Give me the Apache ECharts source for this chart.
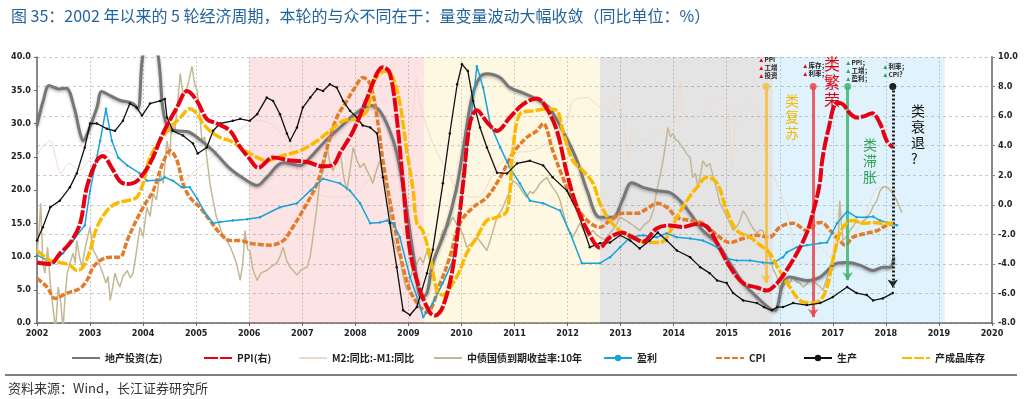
<!DOCTYPE html>
<html>
<head>
<meta charset="utf-8">
<script src="https://cdn.jsdelivr.net/npm/echarts@6.0.0/dist/echarts.min.js"></script>
<style>
  html, body { margin: 0; padding: 0; background: #fff; }
  #chart { width: 1027px; height: 399px; }
</style>
</head>
<body>
<div id="chart"></div>
<script>
// 数据（横轴为年份，左轴 0-40，右轴 -8-10）
const invest = [[2002.00,29.7],[2002.12,33.5],[2002.23,35.7],[2002.40,35.2],[2002.55,35.3],[2002.70,32.4],[2002.81,28.6],[2002.87,27.4],[2002.96,28.7],[2003.13,32.4],[2003.22,34.8],[2003.38,34.2],[2003.56,33.5],[2003.81,33.0],[2003.90,32.2],[2003.98,39.4],[2004.05,42],[2004.15,43],[2004.25,41],[2004.28,40.4],[2004.32,37.5],[2004.37,32.4],[2004.47,29.4],[2004.64,28.9],[2004.83,28.8],[2005.02,27.9],[2005.32,25.9],[2005.64,23.2],[2005.96,21.4],[2006.15,20.7],[2006.33,21.9],[2006.64,24.1],[2006.96,23.7],[2007.15,24.9],[2007.39,27.0],[2007.71,29.4],[2007.96,31.2],[2008.28,32.7],[2008.46,31.9],[2008.65,28.9],[2008.78,25.6],[2008.95,18],[2009.10,10],[2009.25,3.8],[2009.35,4.5],[2009.46,9],[2009.70,14],[2009.90,20],[2010.05,27],[2010.20,34],[2010.35,37],[2010.48,37.5],[2010.73,36.9],[2010.91,35.4],[2011.16,34.6],[2011.48,33.4],[2011.67,32.2],[2011.91,28.9],[2012.18,24.4],[2012.37,19.9],[2012.61,15.9],[2012.86,15.9],[2013.03,18.4],[2013.21,21.1],[2013.42,20.4],[2013.68,19.9],[2013.93,19.6],[2014.12,18.4],[2014.31,16.5],[2014.55,13.9],[2014.82,12.0],[2015.06,9.0],[2015.31,6.0],[2015.57,3.9],[2015.81,2.2],[2015.91,1.9],[2016.06,6.0],[2016.19,6.9],[2016.51,6.4],[2016.76,6.9],[2017.08,9.0],[2017.27,9.1],[2017.51,8.7],[2017.76,7.9],[2017.94,8.4],[2018.08,8.4],[2018.15,9.9]];

const ppi = [[2002.00,-3.9],[2002.25,-4.0],[2002.43,-3.3],[2002.62,-2.6],[2002.81,-1.3],[2002.94,1.2],[2003.13,3.0],[2003.24,3.3],[2003.41,2.5],[2003.56,1.6],[2003.70,1.4],[2003.88,1.6],[2004.13,2.8],[2004.37,4.8],[2004.64,6.6],[2004.83,7.7],[2005.02,7.0],[2005.20,5.8],[2005.39,5.5],[2005.64,5.0],[2005.83,3.9],[2006.01,3.1],[2006.17,2.5],[2006.45,3.2],[2006.77,3.0],[2007.09,2.9],[2007.39,2.6],[2007.58,2.7],[2007.71,3.5],[2007.96,5.0],[2008.22,7.2],[2008.41,8.9],[2008.52,9.3],[2008.65,8.9],[2008.78,5.9],[2008.90,1.4],[2009.03,-3.1],[2009.22,-5.8],[2009.41,-7.3],[2009.50,-7.5],[2009.65,-6.9],[2009.84,-4.2],[2010.03,1.4],[2010.16,5.5],[2010.29,6.4],[2010.48,5.6],[2010.67,5.0],[2010.91,5.9],[2011.16,6.8],[2011.42,7.2],[2011.61,6.5],[2011.80,5.0],[2011.99,2.1],[2012.18,-0.2],[2012.37,-1.7],[2012.61,-2.9],[2012.80,-2.2],[2013.03,-1.9],[2013.23,-2.2],[2013.42,-2.5],[2013.68,-1.6],[2013.93,-1.4],[2014.17,-1.5],[2014.44,-1.3],[2014.63,-1.5],[2014.82,-2.6],[2015.06,-4.2],[2015.31,-5.3],[2015.57,-5.6],[2015.76,-5.8],[2015.95,-5.3],[2016.06,-4.8],[2016.32,-3.3],[2016.51,-1.9],[2016.62,-0.6],[2016.70,0.5],[2016.76,1.6],[2016.80,3.0],[2016.91,5.0],[2017.08,6.9],[2017.19,6.8],[2017.32,6.2],[2017.45,5.9],[2017.60,6.0],[2017.74,6.2],[2017.89,5.5],[2018.02,4.3],[2018.13,3.9]];

const m2m1 = [[2002.00,25],[2002.10,26.5],[2002.25,27.4],[2002.35,24.9],[2002.45,22.5],[2002.60,24],[2002.80,23],[2003.00,24.5],[2003.30,25.9],[2003.50,25],[2003.70,23],[2003.90,21.5],[2004.10,23],[2004.40,22],[2004.70,21],[2005.00,23],[2005.30,25],[2005.60,28],[2005.90,29.5],[2006.10,30.5],[2006.40,30],[2006.60,28.5],[2006.75,27.4],[2006.96,21.9],[2007.28,19.5],[2007.58,18.9],[2008.03,19.5],[2008.33,21.9],[2008.60,21.9],[2008.84,22.9],[2009.09,31.9],[2009.15,36.9],[2009.22,33],[2009.46,27],[2009.73,22.9],[2009.97,19.5],[2010.29,18.9],[2010.67,23.4],[2010.97,25.5],[2011.35,25.9],[2011.67,27.4],[2011.99,30.4],[2012.10,33.4],[2012.37,33.9],[2012.61,32.4],[2012.80,31.9],[2012.93,33.7],[2013.04,31.4],[2013.14,24.9],[2013.23,28.9],[2013.42,27.4],[2013.68,28.5],[2013.99,29.4],[2014.12,36.4],[2014.21,30.9],[2014.44,30.9],[2014.82,33.9],[2015.00,33.4],[2015.10,23.4],[2015.19,30.9],[2015.44,33],[2015.62,31.4],[2015.81,24],[2016.06,18.4],[2016.19,15],[2016.32,9.4],[2016.51,9],[2016.76,11.4],[2016.95,9.9],[2017.13,17.4],[2017.32,12.9],[2017.60,16],[2017.80,20],[2018.00,20.5],[2018.20,20]];

const bond = [[2002.00,10.5],[2002.04,14],[2002.07,18],[2002.11,9],[2002.15,7.5],[2002.20,11.4],[2002.25,6],[2002.30,2.4],[2002.35,-1],[2002.40,5.4],[2002.45,3],[2002.49,-1],[2002.53,4],[2002.57,7.5],[2002.62,9],[2002.68,10.5],[2002.72,9],[2002.75,12.4],[2002.80,10],[2002.85,8.4],[2002.90,11],[2002.94,12.4],[2003.00,14.4],[2003.06,11],[2003.13,9.9],[2003.19,8.5],[2003.24,7.5],[2003.30,6],[2003.34,7],[2003.38,3.4],[2003.43,5.5],[2003.47,7.5],[2003.52,6.2],[2003.56,5.4],[2003.62,7],[2003.70,7.9],[2003.76,6.8],[2003.81,7.5],[2003.88,11],[2003.94,14.4],[2004.00,13],[2004.07,17.4],[2004.13,16],[2004.19,19.5],[2004.25,18.5],[2004.32,22.5],[2004.38,21],[2004.45,27.4],[2004.50,25],[2004.54,30],[2004.60,29],[2004.65,33],[2004.70,37.5],[2004.75,34.5],[2004.79,34.5],[2004.85,36],[2004.92,38.6],[2004.97,36],[2005.02,34.9],[2005.07,31],[2005.11,27.4],[2005.16,28],[2005.20,24.9],[2005.26,21],[2005.32,18.4],[2005.38,16],[2005.45,14.4],[2005.51,13],[2005.58,12.4],[2005.64,11.5],[2005.69,10.5],[2005.76,9],[2005.83,6.4],[2005.88,9],[2005.92,13.9],[2005.97,11],[2006.01,10.9],[2006.07,8],[2006.15,6.4],[2006.22,7.5],[2006.33,7.9],[2006.42,8.5],[2006.52,9],[2006.58,10],[2006.64,11.4],[2006.70,9.5],[2006.77,8.4],[2006.84,7.8],[2006.90,7.2],[2006.98,8],[2007.09,8.4],[2007.15,10],[2007.20,12.9],[2007.27,17],[2007.33,21.4],[2007.40,23],[2007.47,26.4],[2007.52,24],[2007.58,22.9],[2007.65,24.5],[2007.71,25.9],[2007.78,22],[2007.84,19.9],[2007.90,23],[2007.96,26.4],[2008.03,24.5],[2008.09,23.4],[2008.16,24],[2008.22,22.9],[2008.28,22],[2008.33,21],[2008.40,23],[2008.46,24.4],[2008.53,22],[2008.60,19.9],[2008.66,16],[2008.71,12.9],[2008.78,11],[2008.84,9.9],[2008.90,7],[2008.97,4.9],[2009.03,6.5],[2009.09,8.4],[2009.16,9],[2009.22,9.9],[2009.28,9],[2009.35,10.9],[2009.40,9.5],[2009.46,8.4],[2009.55,11],[2009.65,13.9],[2009.75,14.5],[2009.84,15.9],[2009.90,15],[2009.97,14.4],[2010.04,13],[2010.10,11.4],[2010.20,12],[2010.29,12.9],[2010.38,12],[2010.48,10.9],[2010.54,12.4],[2010.60,14],[2010.67,15.9],[2010.76,17],[2010.86,18.9],[2010.92,20],[2010.97,21.4],[2011.04,21],[2011.10,20.4],[2011.17,19.5],[2011.23,18.9],[2011.29,19.8],[2011.35,19.5],[2011.42,20.2],[2011.48,21],[2011.55,21.5],[2011.61,21.9],[2011.67,21],[2011.72,20.4],[2011.80,19.5],[2011.86,18.4],[2011.92,16.5],[2011.99,14.4],[2012.05,13.5],[2012.10,12.9],[2012.17,14],[2012.23,15],[2012.30,14],[2012.37,12.9],[2012.42,13.5],[2012.48,13.9],[2012.55,13.2],[2012.61,12.9],[2012.70,12.5],[2012.80,13.5],[2012.90,14.5],[2012.99,15.9],[2013.08,15.5],[2013.18,15],[2013.27,14.5],[2013.36,13.9],[2013.45,14.8],[2013.55,15.4],[2013.62,17],[2013.68,19.9],[2013.74,22],[2013.80,24.4],[2013.85,27],[2013.89,29.4],[2013.94,28],[2013.99,28.5],[2014.04,27.5],[2014.08,27.4],[2014.13,26.8],[2014.17,26.4],[2014.24,25.5],[2014.31,24.9],[2014.36,21.9],[2014.41,22.5],[2014.46,20.4],[2014.50,22],[2014.55,24.4],[2014.62,23.5],[2014.68,24],[2014.73,22.5],[2014.78,21],[2014.83,19.5],[2014.87,18],[2014.94,17],[2015.00,15.9],[2015.06,15],[2015.12,13.9],[2015.19,14.5],[2015.25,15.4],[2015.31,16.9],[2015.38,16],[2015.44,15],[2015.50,14.2],[2015.57,13.5],[2015.62,14],[2015.68,13.9],[2015.75,12],[2015.81,9.9],[2015.88,8],[2015.95,6.9],[2016.00,4.9],[2016.07,5.5],[2016.13,6.4],[2016.19,6],[2016.25,6.9],[2016.32,6.2],[2016.38,6],[2016.44,5.4],[2016.50,5.8],[2016.56,6.4],[2016.62,6.4],[2016.70,5.8],[2016.76,5.5],[2016.81,4.9],[2016.88,6.5],[2016.95,8.4],[2017.02,10],[2017.08,11.4],[2017.11,14],[2017.13,18.4],[2017.16,15],[2017.19,12.4],[2017.26,13],[2017.32,13.9],[2017.38,14.5],[2017.45,15.4],[2017.53,15],[2017.60,15.5],[2017.64,15.9],[2017.70,16.5],[2017.76,17.5],[2017.83,18.4],[2017.89,19.9],[2017.95,20.5],[2018.02,20.4],[2018.08,20],[2018.13,19.5],[2018.20,18.5],[2018.26,17.4],[2018.30,16.6]];

const profit = [[2002.00,10.2],[2002.30,9.0],[2002.49,10.5],[2002.68,12.4],[2002.90,14.7],[2003.00,19.9],[2003.19,27.4],[2003.30,32.2],[2003.41,27.4],[2003.53,24.9],[2003.70,23.7],[2003.94,22.5],[2004.07,21.4],[2004.32,21.5],[2004.41,21.9],[2004.56,21.4],[2004.73,20.4],[2004.88,20.4],[2005.02,18.7],[2005.17,16.5],[2005.32,15.0],[2005.45,15.2],[2005.69,15.4],[2005.96,15.6],[2006.20,15.9],[2006.58,17.4],[2006.90,18.0],[2007.15,19.9],[2007.39,21.7],[2007.71,21.0],[2007.90,19.9],[2008.09,18.0],[2008.28,15.0],[2008.46,15.1],[2008.60,15.4],[2008.71,15.0],[2008.84,12.9],[2009.03,6.9],[2009.20,3.0],[2009.28,0.9],[2009.46,3.0],[2009.65,6.0],[2009.84,9.4],[2009.97,15.9],[2010.10,25.9],[2010.22,33.4],[2010.29,38.6],[2010.41,35.4],[2010.54,30.0],[2010.73,26.4],[2010.91,23.4],[2011.10,21.0],[2011.29,18.4],[2011.54,18.0],[2011.86,16.9],[2012.05,13.5],[2012.27,9.0],[2012.61,9.0],[2012.80,9.9],[2012.99,11.4],[2013.18,12.9],[2013.42,13.2],[2013.68,12.9],[2013.87,13.5],[2014.06,12.9],[2014.31,12.7],[2014.55,12.4],[2014.82,11.4],[2015.00,9.7],[2015.19,9.4],[2015.44,9.4],[2015.68,9.1],[2015.87,9.0],[2016.06,9.9],[2016.13,10.6],[2016.32,11.4],[2016.51,11.7],[2016.76,12.0],[2016.89,12.1],[2017.08,15.0],[2017.27,16.8],[2017.45,15.9],[2017.64,15.9],[2017.76,16.0],[2017.89,15.4],[2018.02,15.1],[2018.21,14.7]];

const cpi = [[2002.00,6.7],[2002.19,5.4],[2002.34,3.7],[2002.57,4.5],[2002.81,5.2],[2002.94,6.4],[2003.06,8.4],[2003.19,9.4],[2003.38,9.9],[2003.56,9.9],[2003.70,12.4],[2003.81,14.4],[2004.00,17.4],[2004.19,19.9],[2004.37,24.0],[2004.51,25.9],[2004.64,24.4],[2004.75,21.0],[2004.88,18.9],[2005.07,17.4],[2005.26,15.4],[2005.45,13.5],[2005.64,12.4],[2005.83,12.4],[2006.01,12.0],[2006.20,11.8],[2006.39,11.7],[2006.64,12.4],[2006.82,14.4],[2007.01,16.9],[2007.28,21.0],[2007.47,26.4],[2007.65,30.9],[2007.84,33.4],[2008.03,35.9],[2008.14,36.9],[2008.28,35.9],[2008.41,30.9],[2008.52,24.4],[2008.65,18.4],[2008.78,12.9],[2008.90,8.4],[2009.03,4.9],[2009.22,2.4],[2009.35,1.6],[2009.60,6.0],[2009.78,9.9],[2009.97,15.0],[2010.22,17.4],[2010.48,18.9],[2010.73,21.9],[2010.97,25.5],[2011.23,27.9],[2011.42,28.9],[2011.54,30.0],[2011.72,25.9],[2011.91,21.9],[2012.10,18.4],[2012.37,15.4],[2012.61,14.4],[2012.80,15.4],[2013.04,16.5],[2013.31,16.5],[2013.50,17.2],[2013.68,18.0],[2013.87,17.4],[2014.06,15.9],[2014.31,15.4],[2014.55,15.0],[2014.82,13.2],[2015.06,12.1],[2015.31,12.7],[2015.57,13.2],[2015.81,12.9],[2016.00,14.4],[2016.25,15.0],[2016.51,13.9],[2016.70,15.0],[2016.79,15.1],[2016.95,13.9],[2017.13,12.4],[2017.23,11.7],[2017.38,12.9],[2017.64,13.5],[2017.83,13.9],[2018.02,14.7],[2018.21,15.0]];

const output = [[2002.00,12.4],[2002.11,14.4],[2002.25,17.4],[2002.43,18.4],[2002.62,20.4],[2002.75,22.5],[2002.90,26.4],[2003.00,30.0],[2003.13,30.0],[2003.32,29.2],[2003.47,28.9],[2003.62,30.4],[2003.75,33.0],[2003.88,32.4],[2003.98,31.2],[2004.13,33.0],[2004.32,33.4],[2004.41,33.7],[2004.45,30.9],[2004.56,28.9],[2004.75,28.2],[2004.94,27.0],[2005.03,25.5],[2005.20,26.4],[2005.32,28.9],[2005.45,30.0],[2005.69,30.4],[2005.83,30.7],[2006.01,30.4],[2006.15,31.4],[2006.33,33.9],[2006.45,33.4],[2006.58,31.4],[2006.71,28.5],[2006.77,27.4],[2006.90,29.4],[2007.01,32.4],[2007.15,33.9],[2007.28,35.2],[2007.39,34.9],[2007.52,35.9],[2007.65,35.4],[2007.77,33.4],[2007.90,31.9],[2008.03,30.9],[2008.14,29.7],[2008.28,29.4],[2008.41,28.5],[2008.52,21.9],[2008.65,15.0],[2008.78,8.4],[2008.90,1.9],[2009.03,1.2],[2009.16,2.4],[2009.35,7.5],[2009.46,11.0],[2009.65,21.0],[2009.78,28.5],[2009.92,35.9],[2010.01,38.9],[2010.12,37.9],[2010.22,33.4],[2010.35,29.4],[2010.48,26.4],[2010.67,22.6],[2010.86,22.5],[2011.05,24.0],[2011.29,24.4],[2011.54,23.7],[2011.72,21.9],[2011.99,19.9],[2012.18,16.9],[2012.42,11.4],[2012.61,12.0],[2012.80,12.1],[2012.99,13.2],[2013.18,12.4],[2013.36,11.2],[2013.55,12.4],[2013.70,13.6],[2013.87,12.4],[2014.06,10.9],[2014.31,9.9],[2014.50,8.4],[2014.68,7.5],[2014.82,6.4],[2015.00,6.0],[2015.12,4.5],[2015.31,3.4],[2015.57,3.0],[2015.70,2.4],[2015.85,1.9],[2015.95,2.4],[2016.06,2.4],[2016.25,3.0],[2016.51,2.7],[2016.76,3.0],[2017.00,3.9],[2017.27,5.4],[2017.45,4.5],[2017.64,4.2],[2017.76,3.4],[2017.94,3.7],[2018.13,4.5]];

const stock = [[2002.00,10.9],[2002.25,9.4],[2002.43,9.1],[2002.62,8.7],[2002.75,7.9],[2002.87,8.4],[2003.00,10.9],[2003.13,14.4],[2003.32,16.9],[2003.50,18.0],[2003.70,18.4],[2003.88,18.9],[2004.00,21.0],[2004.13,24.9],[2004.32,27.4],[2004.51,29.4],[2004.70,30.9],[2004.88,32.2],[2005.02,31.4],[2005.13,30.0],[2005.26,28.9],[2005.45,27.9],[2005.64,27.4],[2005.83,26.4],[2006.01,25.5],[2006.20,24.7],[2006.33,24.4],[2006.64,25.2],[2006.96,25.9],[2007.28,27.4],[2007.52,28.9],[2007.77,30.4],[2008.03,30.7],[2008.22,31.9],[2008.33,35.9],[2008.46,37.5],[2008.60,37.9],[2008.71,36.9],[2008.84,33.0],[2008.97,25.9],[2009.09,19.9],[2009.16,15.0],[2009.27,13.9],[2009.41,9.9],[2009.54,4.9],[2009.65,4.2],[2009.84,6.0],[2009.97,7.9],[2010.10,10.5],[2010.29,12.9],[2010.48,15.4],[2010.67,15.9],[2010.86,16.9],[2010.97,25.9],[2011.10,31.4],[2011.35,31.9],[2011.61,32.2],[2011.80,31.9],[2011.91,28.9],[2012.10,24.4],[2012.29,22.9],[2012.48,21.0],[2012.61,18.0],[2012.80,15.4],[2012.99,13.9],[2013.23,12.9],[2013.50,12.1],[2013.74,12.1],[2013.87,12.9],[2014.06,15.9],[2014.25,18.4],[2014.44,20.4],[2014.63,21.9],[2014.82,21.0],[2015.00,16.9],[2015.19,13.9],[2015.44,12.9],[2015.57,12.1],[2015.81,10.5],[2015.97,8.2],[2016.19,5.4],[2016.38,3.4],[2016.57,3.0],[2016.76,3.4],[2016.89,5.4],[2017.00,9.4],[2017.13,13.5],[2017.27,15.1],[2017.38,15.4],[2017.57,15.0],[2017.76,15.1],[2017.94,15.0],[2018.13,15.0]];

// 周期阶段（年份）
const phaseStart = [2006.00, 2009.30, 2012.61, 2015.87];
const phaseEnd = [2009.30, 2012.61, 2015.87, 2019.11];
// 拐点竖线（右轴数值）
const turnYears = [2015.74, 2016.63, 2017.28, 2018.13];
const turnTop = [8, 8, 8, 8];
const turnBottom = [-5.3, -7.6, -5.1, -5.6];

const seriesNames = ['地产投资(左)', 'PPI(右)', 'M2:同比:-M1:同比', '中债国债到期收益率:10年', '盈利', 'CPI', '生产', '产成品库存'];
const legendLeft = [66, 198, 293, 428, 598, 710, 798, 896];
const legendMarker = [false, false, false, false, true, false, true, false];

const FONT = '"Noto Sans CJK SC", "DejaVu Sans", sans-serif';
const NUMFONT = '"DejaVu Sans Condensed", "DejaVu Sans", sans-serif';
const phaseColors = ['rgba(240,120,120,0.2)', 'rgba(250,215,110,0.2)', 'rgba(120,120,120,0.2)', 'rgba(100,190,235,0.2)'];
const turnColors = ['#f6c041', '#e8484a', '#3fb66e', '#222'];

let chartDom = document.getElementById('chart')
let myChart = echarts.init(chartDom)

const legends = seriesNames.map((n, i) => ({
  data: [n],
  left: legendLeft[i],
  top: 348,
  itemWidth: 28,
  itemHeight: 8,
  itemGap: 4,
  selectedMode: false,
  itemStyle: legendMarker[i] ? {} : { opacity: 0 },
  textStyle: { fontSize: 10, fontWeight: 'bold', color: '#222', fontFamily: FONT }
}))

const smallNote = (x, y, text, tri) => ({
  type: 'text', left: x, top: y, z: 100,
  style: {
    text: text, fontSize: 6.5, lineHeight: 8, fill: '#222', fontWeight: 'bold', fontFamily: FONT,
    rich: { t: { fill: tri, fontSize: 6.5 } }
  }
})
const phaseLabel = (x, y, text, color, size) => ({
  type: 'text', left: x, top: y, z: 100,
  style: { text: text, fontSize: size, lineHeight: size + 2, fill: color, fontFamily: FONT }
})

let option = {
  animation: false,
  textStyle: { fontFamily: FONT },
  title: {
    text: '图 35：2002 年以来的 5 轮经济周期，本轮的与众不同在于：量变量波动大幅收敛（同比单位：%）',
    left: 6, top: 3,
    textStyle: { fontSize: 16, fontWeight: 'normal', color: '#23649e', fontFamily: FONT }
  },
  legend: legends,
  grid: { left: 37, right: 35, top: 57, bottom: 76 },
  xAxis: {
    type: 'value', min: 2002, max: 2020, interval: 1,
    axisLine: { lineStyle: { color: '#666', width: 1.5 } },
    axisTick: { show: true, length: 3, lineStyle: { color: '#666' } },
    axisLabel: { formatter: v => String(v), fontSize: 9, fontWeight: 'bold', color: '#222', margin: 6, fontFamily: NUMFONT },
    splitLine: { show: true, lineStyle: { color: '#c8c8c8', type: [2, 2] } }
  },
  yAxis: [
    {
      type: 'value', min: 0, max: 40, interval: 5, position: 'left',
      axisLine: { show: true, lineStyle: { color: '#666', width: 1.5 } },
      axisTick: { show: true, length: 3 },
      axisLabel: { formatter: v => v.toFixed(1), fontSize: 9, fontWeight: 'bold', color: '#222', margin: 6, fontFamily: NUMFONT },
      splitLine: { show: false }
    },
    {
      type: 'value', min: -8, max: 10, interval: 2, position: 'right',
      axisLine: { show: true, lineStyle: { color: '#888', width: 2 } },
      axisTick: { show: true, length: 3 },
      axisLabel: { formatter: v => v.toFixed(1), fontSize: 9, fontWeight: 'bold', color: '#222', margin: 6, fontFamily: NUMFONT },
      splitLine: { show: true, lineStyle: { color: '#c8c8c8', type: [3, 3] } }
    }
  ],
  series: [
    {
      name: 'M2:同比:-M1:同比', type: 'line', data: m2m1, symbol: 'none', smooth: 0.3, z: 1,
      lineStyle: { color: '#f1d8ca', width: 1 }, itemStyle: { color: '#f1d8ca' },
      markArea: {
        silent: true,
        data: phaseStart.map((s, i) => [{ xAxis: s, itemStyle: { color: phaseColors[i] } }, { xAxis: phaseEnd[i] }])
      }
    },
    {
      name: '中债国债到期收益率:10年', type: 'line', data: bond, symbol: 'none', z: 2,
      lineStyle: { color: '#c4b793', width: 1.5 }, itemStyle: { color: '#c4b793' }
    },
    {
      name: '地产投资(左)', type: 'line', data: invest, symbol: 'none', smooth: 0.35, z: 3,
      lineStyle: { color: '#777', width: 3, shadowColor: 'rgba(0,0,0,0.3)', shadowBlur: 3, shadowOffsetY: 1.5 },
      itemStyle: { color: '#777' }
    },
    {
      name: 'CPI', type: 'line', data: cpi, symbol: 'none', smooth: 0.35, z: 4,
      lineStyle: { color: '#e37b2a', width: 3.5, type: [6, 2] }, itemStyle: { color: '#e37b2a' }
    },
    {
      name: '盈利', type: 'line', data: profit, symbol: 'circle', symbolSize: 2.5, z: 5,
      lineStyle: { color: '#1ba1dc', width: 1.5 }, itemStyle: { color: '#1ba1dc' }
    },
    {
      name: '产成品库存', type: 'line', data: stock, symbol: 'none', smooth: 0.35, z: 6,
      lineStyle: { color: '#fbba00', width: 3.5, type: [10, 2] }, itemStyle: { color: '#fbba00' }
    },
    {
      name: '生产', type: 'line', data: output, symbol: 'circle', symbolSize: 2.5, z: 7,
      lineStyle: { color: '#111', width: 1.3 }, itemStyle: { color: '#111' }
    },
    {
      name: 'PPI(右)', type: 'line', yAxisIndex: 1, data: ppi, symbol: 'none', smooth: 0.35, z: 8,
      lineStyle: { color: '#e60012', width: 4, type: [14, 2] }, itemStyle: { color: '#e60012' },
      markLine: {
        silent: true, animation: false,
        label: { show: false },
        data: turnYears.map((yr, i) => [
          {
            coord: [yr, turnTop[i]], symbol: 'circle', symbolSize: 7,
            itemStyle: { color: turnColors[i] },
            lineStyle: { color: turnColors[i], width: 3, type: i === 3 ? [2, 2] : 'solid', opacity: i === 3 ? 1 : 0.85 }
          },
          { coord: [yr, turnBottom[i]], symbol: 'arrow', symbolSize: 8 }
        ])
      }
    }
  ],
  graphic: [
    { type: 'line', shape: { x1: 5, y1: 375, x2: 1017, y2: 375 }, style: { stroke: '#000', lineWidth: 1 } },
    { type: 'text', left: 8, top: 382, style: { text: '资料来源：Wind，长江证券研究所', fontSize: 13, fill: '#333', fontFamily: FONT } },
    phaseLabel(785, 93, '类\n复\n苏', '#f6b800', 14),
    phaseLabel(824, 55, '类\n繁\n荣', '#e60012', 16),
    phaseLabel(863, 137, '类\n滞\n胀', '#2ea35a', 14),
    phaseLabel(911, 103, '类\n衰\n退\n?', '#111', 14),
    smallNote(758, 56, '{t|▲}PPI\n{t|▲}工增\n{t|▲}投资', '#e60012'),
    smallNote(802, 62, '{t|▲}库存；\n{t|▲}利率；', '#e60012'),
    smallNote(845, 59, '{t|▲}PPI；\n{t|▲}工增；\n{t|▲}盈利；', '#2ea35a'),
    smallNote(882, 63, '{t|▲}利率；\n{t|▲}CPI？', '#2ea35a')
  ]
}

myChart.setOption(option)
</script>
</body>
</html>
